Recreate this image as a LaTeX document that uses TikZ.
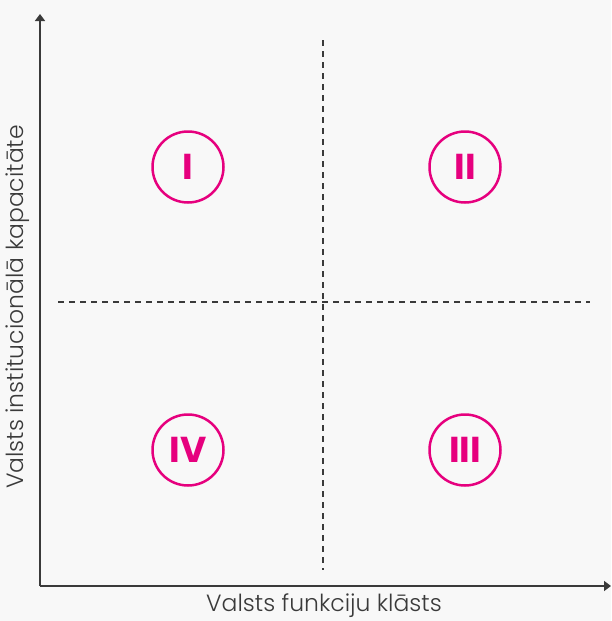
\documentclass[tikz,border=0pt]{standalone}
\usepackage{fontspec}
\setmainfont{Poppins}
\newfontfamily\lightfont{Poppins Light}
\usetikzlibrary{arrows.meta}
\definecolor{bg}{HTML}{F8F8F8}
\definecolor{magenta}{HTML}{E6007E}
\definecolor{axisgray}{HTML}{3A3A3A}

\tikzset{
  quadrant/.style={circle, draw=magenta, line width=2.5pt, minimum size=71pt,
    inner sep=0pt, text=magenta, font=\fontsize{36}{36}\selectfont\bfseries},
  axislabel/.style={font=\lightfont\fontsize{23.5}{23.5}\selectfont, text=axisgray},
  divider/.style={axisgray, line width=1.1pt, dash pattern=on 6pt off 5pt}
}

\begin{document}
\begin{tikzpicture}[x=1pt,y=-1pt]
      \fill[bg] (0,0) rectangle (611,621);
      \useasboundingbox (0,0) rectangle (611,621);
      % axes
      \coordinate (o) at (40,586);
      \coordinate (ytop) at (40,14);
      \coordinate (xend) at (611,586);
      \draw[axisgray, line width=1.6pt, -{Triangle[length=7pt,width=10pt]}] (o) -- (ytop);
      \draw[axisgray, line width=1.6pt, -{Triangle[length=7pt,width=10pt]}] (o) -- (xend);
      % dashed dividers
      \coordinate (vtop) at (323,40);
      \coordinate (vbot) at (323,570);
      \coordinate (hleft) at (58,302);
      \coordinate (hright) at (590,302);
      \draw[divider] (vtop) -- (vbot);
      \draw[divider] (hleft) -- (hright);
      % quadrants
      \node[quadrant] (q1) at (188,167) {I};
      \node[quadrant] (q2) at (465,167) {II};
      \node[quadrant] (q3) at (465,450) {III};
      \node[quadrant] (q4) at (188,450) {IV};
      % labels
      \node[axislabel] (xlab) at (324,606) {Valsts funkciju klāsts};
      \node[axislabel, rotate=90] (ylab) at (18,307) {Valsts institucionālā kapacitāte};
    \end{tikzpicture}
\end{document}
